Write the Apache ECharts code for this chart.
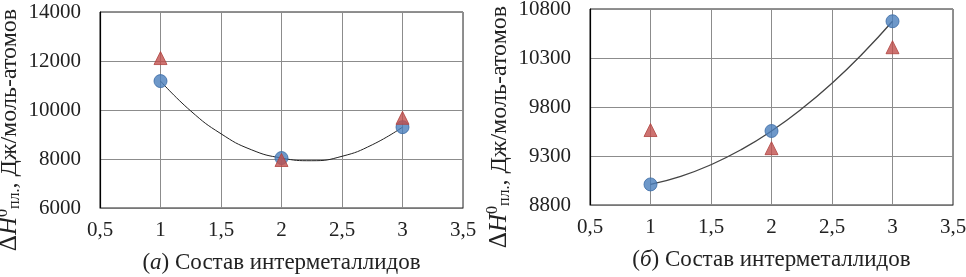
<!DOCTYPE html>
<html><head><meta charset="utf-8">
<script src="https://cdn.jsdelivr.net/npm/echarts@6/dist/echarts.min.js"></script>
<style>html,body{margin:0;padding:0;background:#fff}#c{width:966px;height:277px}</style>
</head><body><div id="c"></div>
<script>
// Data
const xA = [1, 2, 3];
const blueA = [11180, 8040, 9300];
const redA = [12120, 7960, 9680];
const trendXA = [1, 1.25, 1.5, 1.75, 2, 2.25, 2.5, 2.75, 3];
const trendYA = [11180, 9960, 9030, 8380, 8040, 7930, 8110, 8580, 9300];

const xB = [1, 2, 3];
const blueB = [9010, 9555, 10675];
const redB = [9565, 9380, 10410];
const trendXB = [1, 1.25, 1.5, 1.75, 2, 2.25, 2.5, 2.75, 3];
const trendYB = [9010, 9092, 9211, 9365, 9555, 9781, 10043, 10341, 10675];

const xTicks = ['0,5', '1', '1,5', '2', '2,5', '3', '3,5'];
const titleA = ['(', 'а', ') Состав интерметаллидов'];
const titleB = ['(', 'б', ') Состав интерметаллидов'];

const FONT = '"Liberation Serif", "DejaVu Serif", serif';
const pair = (xs, ys) => xs.map((x, i) => [x, ys[i]]);

function xAxisFor(idx, t) {
  return {
    gridIndex: idx, type: 'value', min: 0.5, max: 3.5, interval: 0.5,
    axisLine: { show: true, lineStyle: { color: '#777', width: 1 } },
    axisTick: { show: false },
    splitLine: { show: true, lineStyle: { color: '#8c8c8c', width: 1 } },
    axisLabel: { fontFamily: FONT, fontSize: 21, color: '#222', margin: 12,
      formatter: v => xTicks[Math.round((v - 0.5) / 0.5)] },
    name: '{n|' + t[0] + '}{i|' + t[1] + '}{n|' + t[2] + '}',
    nameLocation: 'middle', nameGap: 43,
    nameTextStyle: { rich: {
      n: { fontFamily: FONT, fontSize: 23, color: '#222' },
      i: { fontFamily: FONT, fontSize: 23, color: '#222', fontStyle: 'italic' } } }
  };
}
function yAxisFor(idx, min, max, interval, margin) {
  return {
    gridIndex: idx, type: 'value', min, max, interval,
    axisLine: { show: true, lineStyle: { color: '#000', width: 1.2 } },
    axisTick: { show: false },
    splitLine: { show: true, lineStyle: { color: '#8c8c8c', width: 1 } },
    axisLabel: { fontFamily: FONT, fontSize: 21, color: '#222', margin, formatter: v => String(v) },
    name: '{d|Δ}{h|H}{sup|0}{sub|пл.}{t|, Дж/моль-атомов}',
    nameLocation: 'middle', nameGap: margin + 57, nameRotate: 90,
    nameTextStyle: { rich: {
      d: { fontFamily: FONT, fontSize: 25, color: '#222' },
      h: { fontFamily: FONT, fontSize: 25, color: '#222', fontStyle: 'italic' },
      sup: { fontFamily: FONT, fontSize: 16, color: '#222', padding: [0, 0, 13, 0] },
      sub: { fontFamily: FONT, fontSize: 16, color: '#222', padding: [11, 0, 0, 0] },
      t: { fontFamily: FONT, fontSize: 24, color: '#222', padding: [0, 40, 0, 0] } } }
  };
}
const blueSty = { color: '#4a7ebb', borderColor: '#3a6aa5', borderWidth: 1 };
const redSty = { color: '#c0504d', borderColor: '#b04440', borderWidth: 1 };

const chart = echarts.init(document.getElementById('c'));
chart.setOption({
  animation: false,
  grid: [
    { left: 100, top: 12, width: 363, height: 196, show: true, borderColor: '#222', borderWidth: 1, outerBoundsMode: 'none', containLabel: false },
    { left: 590, top: 9, width: 363, height: 196, show: true, borderColor: '#222', borderWidth: 1, outerBoundsMode: 'none', containLabel: false }
  ],
  xAxis: [xAxisFor(0, titleA), xAxisFor(1, titleB)],
  yAxis: [yAxisFor(0, 6000, 14000, 2000, 19), yAxisFor(1, 8800, 10800, 500, 19)],
  series: [
    { type: 'line', xAxisIndex: 0, yAxisIndex: 0, data: pair(trendXA, trendYA), smooth: true,
      showSymbol: false, lineStyle: { color: '#222', width: 1 }, z: 2 },
    { type: 'scatter', xAxisIndex: 0, yAxisIndex: 0, data: pair(xA, blueA), symbol: 'circle', symbolSize: 13, itemStyle: blueSty, z: 3 },
    { type: 'scatter', xAxisIndex: 0, yAxisIndex: 0, data: pair(xA, redA), symbol: 'triangle', symbolSize: 13, itemStyle: redSty, z: 3 },
    { type: 'line', xAxisIndex: 1, yAxisIndex: 1, data: pair(trendXB, trendYB), smooth: true,
      showSymbol: false, lineStyle: { color: '#444', width: 1.3 }, z: 2 },
    { type: 'scatter', xAxisIndex: 1, yAxisIndex: 1, data: pair(xB, blueB), symbol: 'circle', symbolSize: 13, itemStyle: blueSty, z: 3 },
    { type: 'scatter', xAxisIndex: 1, yAxisIndex: 1, data: pair(xB, redB), symbol: 'triangle', symbolSize: 13, itemStyle: redSty, z: 3 }
  ]
});
</script></body></html>
